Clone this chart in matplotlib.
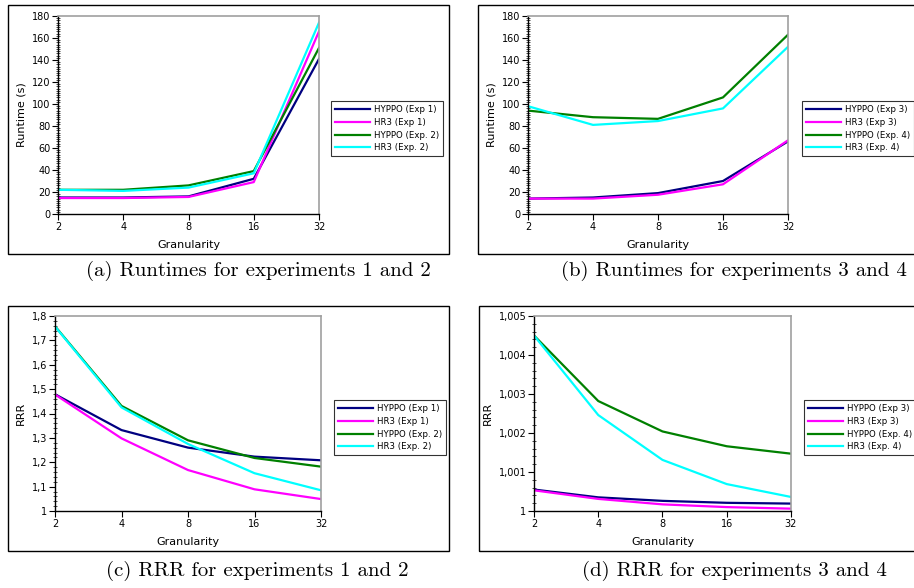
import numpy as np
import matplotlib.pyplot as plt
from matplotlib.patches import Rectangle
from matplotlib.ticker import FuncFormatter, MultipleLocator

granularity = [2, 4, 8, 16, 32]

# runtimes (s)
hyppo_exp1 = [15, 15, 16, 32, 141]
hr3_exp1 = [14.5, 14.5, 15.5, 29, 166]
hyppo_exp2 = [22, 22, 26, 39, 151]
hr3_exp2 = [22, 21, 24, 37, 174]

hyppo_exp3 = [14, 15, 19, 30, 66]
hr3_exp3 = [14, 14, 17.5, 27, 67]
hyppo_exp4 = [94, 88, 86.5, 106, 163]
hr3_exp4 = [98, 81, 84.5, 96, 152]

# RRR
rrr_hyppo_exp1 = [1.479, 1.332, 1.26, 1.223, 1.208]
rrr_hr3_exp1 = [1.478, 1.298, 1.168, 1.089, 1.049]
rrr_hyppo_exp2 = [1.758, 1.431, 1.29, 1.2175, 1.182]
rrr_hr3_exp2 = [1.757, 1.425, 1.275, 1.155, 1.085]

rrr_hyppo_exp3 = [1.00055, 1.00035, 1.00026, 1.00021, 1.00019]
rrr_hr3_exp3 = [1.00053, 1.00031, 1.00017, 1.0001, 1.00006]
rrr_hyppo_exp4 = [1.0045, 1.00282, 1.00204, 1.00166, 1.00147]
rrr_hr3_exp4 = [1.0045, 1.00246, 1.00131, 1.00069, 1.00036]

captions = ["(a) Runtimes for experiments 1 and 2",
            "(b) Runtimes for experiments 3 and 4",
            "(c) RRR for experiments 1 and 2",
            "(d) RRR for experiments 3 and 4"]

colors = ['#000080', '#ff00ff', '#008000', '#00ffff']

W, H = 914, 588
fig = plt.figure(figsize=(W / 100, H / 100), dpi=100)


def frac(l, t, r, b):
    return [l / W, 1 - b / H, (r - l) / W, (b - t) / H]


def comma(v, pos):
    s = ('%.3f' % v).rstrip('0').rstrip('.')
    return s.replace('.', ',')


def panel(rect, box, series, labels, ylim, major, minor, ylabel, legpos, cap, capx, capy):
    # outer frame of the sub-figure
    l, t, r, b = box
    fig.patches.append(Rectangle((l / W, 1 - b / H), (r - l) / W, (b - t) / H,
                                 transform=fig.transFigure, fill=False,
                                 edgecolor='black', linewidth=1.0))
    ax = fig.add_axes(frac(*rect))
    for ys, lab, c in zip(series, labels, colors):
        ax.plot(granularity, ys, color=c, linewidth=1.6, label=lab)
    ax.set_xscale('log', base=2)
    ax.set_xlim(2, 32)
    ax.set_xticks(granularity)
    ax.set_xticklabels([str(g) for g in granularity])
    ax.xaxis.set_minor_locator(plt.NullLocator())
    ax.set_ylim(*ylim)
    ax.yaxis.set_major_locator(MultipleLocator(major))
    ax.yaxis.set_minor_locator(MultipleLocator(minor))
    ax.yaxis.set_major_formatter(FuncFormatter(comma))
    ax.tick_params(axis='both', which='major', labelsize=7, length=4,
                   width=0.8, pad=1.5, color='black')
    ax.tick_params(axis='y', which='minor', direction='inout', length=3.5, width=0.5)
    for s in ['top', 'right']:
        ax.spines[s].set_color('#a0a0a0')
        ax.spines[s].set_linewidth(1.2)
    for s in ['left', 'bottom']:
        ax.spines[s].set_color('black')
        ax.spines[s].set_linewidth(1.0)
    ax.set_xlabel('Granularity', fontsize=8, labelpad=6)
    ax.set_ylabel(ylabel, fontsize=8, labelpad=4)
    ax.legend(loc='upper left', bbox_to_anchor=(legpos[0] / W, 1 - legpos[1] / H),
              bbox_transform=fig.transFigure, fontsize=6.2, frameon=True,
              fancybox=False, edgecolor='black', handlelength=4.0,
              borderpad=0.5, labelspacing=0.42, handletextpad=0.5,
              borderaxespad=0)
    ax.get_legend().get_frame().set_linewidth(0.8)
    fig.text(capx / W, 1 - capy / H, cap,
             ha='center', va='center', fontsize=15, family='cmr10')
    return ax


panel((58, 16, 319, 214), (8, 5, 449, 254),
      [hyppo_exp1, hr3_exp1, hyppo_exp2, hr3_exp2],
      ['HYPPO (Exp 1)', 'HR3 (Exp 1)', 'HYPPO (Exp. 2)', 'HR3 (Exp. 2)'],
      (0, 180), 20, 2, 'Runtime (s)', (331, 101), captions[0], 258, 271)

panel((528, 16, 788, 214), (478, 5, 920, 254),
      [hyppo_exp3, hr3_exp3, hyppo_exp4, hr3_exp4],
      ['HYPPO (Exp 3)', 'HR3 (Exp 3)', 'HYPPO (Exp. 4)', 'HR3 (Exp. 4)'],
      (0, 180), 20, 2, 'Runtime (s)', (802, 101), captions[1], 734, 271)

panel((55, 316, 321, 511), (8, 306, 449, 551),
      [rrr_hyppo_exp1, rrr_hr3_exp1, rrr_hyppo_exp2, rrr_hr3_exp2],
      ['HYPPO (Exp 1)', 'HR3 (Exp 1)', 'HYPPO (Exp. 2)', 'HR3 (Exp. 2)'],
      (1, 1.8), 0.1, 0.02, 'RRR', (334, 400), captions[2], 257, 571)

panel((534, 316, 791, 511), (479, 306, 920, 551),
      [rrr_hyppo_exp3, rrr_hr3_exp3, rrr_hyppo_exp4, rrr_hr3_exp4],
      ['HYPPO (Exp 3)', 'HR3 (Exp 3)', 'HYPPO (Exp. 4)', 'HR3 (Exp. 4)'],
      (1, 1.005), 0.001, 0.0002, 'RRR', (804, 400), captions[3], 734, 571)

fig.savefig('out.png', dpi=100)
